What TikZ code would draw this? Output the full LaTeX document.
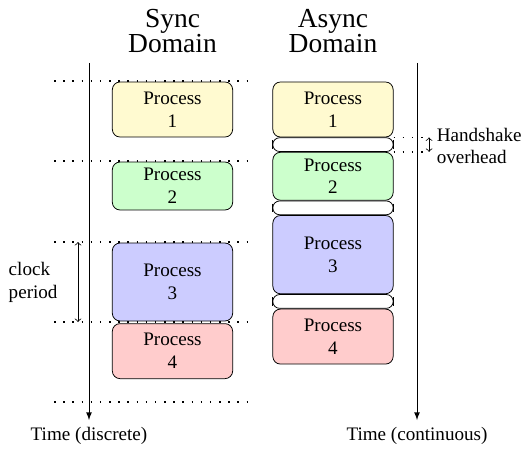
\documentclass[tikz,border=0pt]{standalone}
\usepackage{fontspec}
\setmainfont{Liberation Serif}
\usetikzlibrary{positioning}
\usetikzlibrary{arrows}

\definecolor{giallo}{RGB}{255,250,208}
\definecolor{verde}{RGB}{204,255,204}
\definecolor{blu}{RGB}{204,204,255}
\definecolor{rosso}{RGB}{255,204,204}

\begin{document}
\begin{tikzpicture}[x=0.5236pt,y=-0.5236pt,align=center,node distance=0pt,
processo/.style={draw,rounded corners=4pt,minimum width=63pt,inner sep=0pt},
attesa/.style={draw,fill=white,rounded corners=3.5pt,minimum width=63pt,minimum height=7.2pt,inner sep=0pt},
griglia/.style={loosely dotted,thick},
asse/.style={-latex},
titolo/.style={font=\Large}
]
\useasboundingbox (0,0) rectangle (522,450);
%-- titoli
\node[titolo](ts) at (172.5,31){Sync\\[-5pt]Domain};
\node[titolo](ta) at (333,31){Async\\[-5pt]Domain};
%-- assi
\coordinate (st) at (89,63); \coordinate (sb) at (89,420);
\draw [asse] (st) -- (sb);
\node[below = of sb](sl){Time (discrete)};
\coordinate (at) at (417,63); \coordinate (ab) at (417,420);
\draw [asse] (at) -- (ab);
\node[below = of ab](al){Time (continuous)};
%---- sincrono
\node[processo,fill=giallo,minimum height=28.8pt](s1) at (172.5,109.5){Process\\1};
\node[processo,fill=verde,minimum height=25.1pt](s2) at (172.5,186){Process\\2};
\node[processo,fill=blu,minimum height=40.8pt](s3) at (172.5,282){Process\\3};
\node[processo,fill=rosso,minimum height=28.8pt,below = 1pt of s3](s4){Process\\4};
%--
\foreach \y/\n in {81/1,161/2,242/3,322/4,402/5}{
\coordinate (gl\n) at (54,\y); \coordinate (gr\n) at (253,\y);
\draw [griglia] (gl\n) -- (gr\n);
}
%--
\coordinate (ck1) at (78,242); \coordinate (ck2) at (78,322);
\draw [<->] (ck1) -- (ck2);
\node[anchor=west,align=left](ckl) at (2,282){clock\\period};
%---- asincrono
\node[processo,fill=giallo,minimum height=28.8pt](a1) at (333,109.5){Process\\1};
\node[attesa,below = of a1](h1){};
\node[processo,fill=verde,minimum height=25.1pt,below = of h1](a2){Process\\2};
\node[attesa,below = of a2](h2){};
\node[processo,fill=blu,minimum height=41pt,below = of h2](a3){Process\\3};
\node[attesa,below = of a3](h3){};
\node[processo,fill=rosso,minimum height=28.8pt,below = of h3](a4){Process\\4};
%--
\foreach \h in {h1,h2,h3}{
\draw ([yshift=2.2pt]\h.west) -- ([yshift=-2.2pt]\h.west);
\draw ([yshift=2.2pt]\h.east) -- ([yshift=-2.2pt]\h.east);
}
%-- handshake
\coordinate (hs1) at ([xshift=18pt]h1.north east);
\coordinate (hs2) at ([xshift=18pt]h1.south east);
\draw [griglia] (h1.north east) -- (hs1);
\draw [griglia] (h1.south east) -- (hs2);
\draw [<->] ([xshift=0.6pt]hs1) -- ([xshift=0.6pt]hs2);
\node[anchor=west,align=left](ho) at (430,146){Handshake\\overhead};
\end{tikzpicture}
\end{document}
